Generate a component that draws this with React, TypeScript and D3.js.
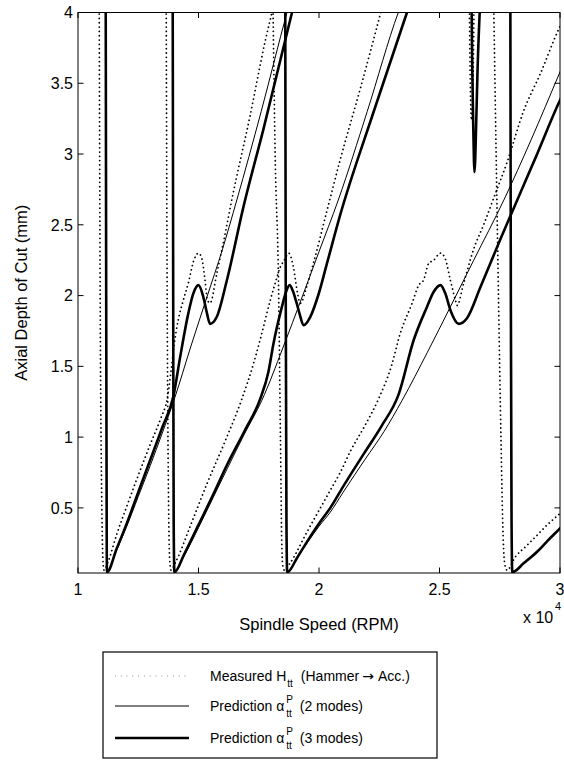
import React from 'react';
import * as d3 from 'd3';

type P = [number, number];

// ---------- axes ----------
const xDomain: [number, number] = [1, 3];
const yDomain: [number, number] = [0.04, 4];
const xTicks = [1, 1.5, 2, 2.5, 3];
const xTickLabels = ['1', '1.5', '2', '2.5', '3'];
const yTicks = [0.5, 1, 1.5, 2, 2.5, 3, 3.5, 4];
const yTickLabels = ['0.5', '1', '1.5', '2', '2.5', '3', '3.5', '4'];

// ---------- Measured H_tt (Hammer -> Acc.) : dotted ----------
const measuredLobe1: P[] = [
  [1.088, 4.05], [1.092, 2.0], [1.099, 0.5], [1.103, 0.15], [1.108, 0.06],
  [1.125, 0.12], [1.16, 0.31], [1.2, 0.5], [1.25, 0.73], [1.3, 0.95], [1.345, 1.14],
  [1.37, 1.27], [1.385, 1.45], [1.398, 1.64], [1.415, 1.82], [1.437, 1.968], [1.458, 2.09],
  [1.479, 2.24], [1.5, 2.3], [1.514, 2.26], [1.527, 2.11], [1.537, 1.968], [1.548, 1.947],
  [1.576, 2.157], [1.611, 2.44], [1.638, 2.675], [1.714, 3.27], [1.777, 3.8], [1.812, 4.05],
];
const measuredLobe2: P[] = [
  [1.366, 4.05], [1.37, 2.0], [1.376, 0.5], [1.38, 0.15], [1.386, 0.06],
  [1.403, 0.11], [1.47, 0.39], [1.535, 0.67], [1.61, 0.97], [1.68, 1.27], [1.73, 1.53],
  [1.756, 1.69], [1.798, 1.968], [1.818, 2.086], [1.839, 2.2], [1.856, 2.25], [1.874, 2.3],
  [1.894, 2.2], [1.911, 2.016], [1.922, 1.945], [1.95, 2.07], [1.977, 2.23], [2.033, 2.6],
  [2.088, 2.96], [2.171, 3.46], [2.264, 4.05],
];
const measuredLobe3: P[] = [
  [1.809, 4.05], [1.818, 3.0], [1.832, 2.086], [1.84, 1.0], [1.845, 0.3], [1.849, 0.1], [1.856, 0.06],
  [1.88, 0.11], [1.95, 0.33], [2.047, 0.625], [2.088, 0.75], [2.13, 0.9], [2.19, 1.08],
  [2.247, 1.27], [2.3, 1.5], [2.337, 1.733], [2.386, 1.945], [2.414, 2.074], [2.434, 2.11],
  [2.455, 2.227], [2.476, 2.25], [2.504, 2.3], [2.524, 2.26], [2.545, 2.11], [2.566, 1.968],
  [2.573, 1.93], [2.6, 2.086], [2.642, 2.33], [2.683, 2.5], [2.725, 2.69], [2.782, 2.95],
  [2.848, 3.3], [2.919, 3.57], [2.994, 3.88], [3.02, 3.97],
];
const measuredDip: P[] = [
  [2.624, 4.05], [2.627, 3.6], [2.63, 3.33], [2.633, 3.24], [2.637, 3.33], [2.64, 3.6], [2.643, 4.05],
];
const measuredLobe4: P[] = [
  [2.725, 4.05], [2.735, 3.0], [2.745, 1.968], [2.755, 1.0], [2.764, 0.3], [2.771, 0.1], [2.78, 0.06],
  [2.815, 0.155], [2.86, 0.23], [2.905, 0.307], [2.95, 0.385], [3.0, 0.46], [3.02, 0.49],
];

// ---------- Prediction alpha_tt^P (2 modes) : thin ----------
const twoModeLobe1: P[] = [
  [1.115, 4.05], [1.117, 2.0], [1.119, 0.4], [1.12, 0.045],
  [1.16, 0.2], [1.2, 0.36], [1.25, 0.58], [1.3, 0.8], [1.35, 1.03], [1.398, 1.26],
  [1.47, 1.65], [1.535, 1.99], [1.6, 2.33], [1.659, 2.675], [1.76, 3.3], [1.867, 4.0], [1.875, 4.05],
];
const twoModeLobe2: P[] = [
  [1.393, 4.05], [1.395, 2.0], [1.397, 0.4], [1.4, 0.045],
  [1.44, 0.16], [1.5, 0.36], [1.56, 0.57], [1.62, 0.78], [1.69, 1.02], [1.763, 1.26],
  [1.85, 1.63], [1.93, 1.99], [2.0, 2.31], [2.08, 2.675], [2.2, 3.3], [2.329, 4.0], [2.34, 4.05],
];
const twoModeLobe3: P[] = [
  [1.86, 4.05], [1.862, 2.0], [1.865, 0.4], [1.868, 0.045],
  [1.91, 0.15], [1.95, 0.25], [2.0, 0.37], [2.047, 0.47], [2.1, 0.61], [2.19, 0.84],
  [2.27, 1.04], [2.345, 1.26], [2.45, 1.6], [2.545, 1.92], [2.642, 2.25], [2.767, 2.675],
  [2.88, 3.1], [3.0, 3.58], [3.02, 3.66],
];
const twoModeLobe4: P[] = [
  [2.794, 4.05], [2.796, 2.0], [2.799, 0.4], [2.802, 0.045],
  [2.85, 0.11], [2.905, 0.19], [2.95, 0.27], [3.0, 0.355], [3.02, 0.39],
];

// ---------- Prediction alpha_tt^P (3 modes) : thick ----------
const threeModeLobe1: P[] = [
  [1.115, 4.05], [1.117, 2.0], [1.119, 0.4], [1.12, 0.045],
  [1.16, 0.21], [1.2, 0.38], [1.25, 0.61], [1.3, 0.84], [1.35, 1.07], [1.396, 1.29],
  [1.424, 1.567], [1.458, 1.876], [1.479, 2.017], [1.5, 2.074], [1.52, 1.99], [1.535, 1.876],
  [1.548, 1.8], [1.576, 1.85], [1.618, 2.11], [1.687, 2.63], [1.77, 3.18], [1.888, 4.0], [1.895, 4.05],
];
const threeModeLobe2: P[] = [
  [1.393, 4.05], [1.395, 2.0], [1.397, 0.4], [1.4, 0.045],
  [1.44, 0.17], [1.5, 0.38], [1.56, 0.59], [1.62, 0.81], [1.69, 1.04], [1.756, 1.27],
  [1.79, 1.46], [1.811, 1.66], [1.846, 1.92], [1.862, 2.02], [1.878, 2.074], [1.892, 2.03],
  [1.905, 1.96], [1.919, 1.874], [1.936, 1.79], [1.964, 1.85], [2.0, 2.02], [2.033, 2.227],
  [2.088, 2.57], [2.225, 3.29], [2.365, 4.0], [2.375, 4.05],
];
const threeModeLobe3: P[] = [
  [1.86, 4.05], [1.862, 2.0], [1.865, 0.4], [1.868, 0.045],
  [1.91, 0.15], [1.95, 0.26], [2.0, 0.39], [2.047, 0.5], [2.1, 0.65], [2.185, 0.88],
  [2.26, 1.08], [2.33, 1.3], [2.393, 1.686], [2.448, 1.92], [2.476, 2.027], [2.504, 2.074],
  [2.524, 2.016], [2.545, 1.898], [2.58, 1.8], [2.614, 1.84], [2.67, 2.06], [2.753, 2.4],
  [2.829, 2.7], [2.9, 2.98], [3.0, 3.38], [3.02, 3.45],
];
const threeModeDip: P[] = [
  [2.633, 4.05], [2.636, 3.6], [2.64, 3.2], [2.643, 2.95], [2.645, 2.873], [2.648, 2.95],
  [2.652, 3.2], [2.658, 3.6], [2.668, 4.05],
];
const threeModeLobe4: P[] = [
  [2.794, 4.05], [2.796, 2.0], [2.799, 0.4], [2.802, 0.045],
  [2.85, 0.11], [2.905, 0.19], [2.95, 0.27], [3.0, 0.355], [3.02, 0.39],
];

const measuredSeries = [measuredLobe1, measuredLobe2, measuredLobe3, measuredDip, measuredLobe4];
const twoModeSeries = [twoModeLobe1, twoModeLobe2, twoModeLobe3, twoModeLobe4];
const threeModeSeries = [threeModeLobe1, threeModeLobe2, threeModeLobe3, threeModeDip, threeModeLobe4];

const FONT = '"Liberation Sans", Arial, Helvetica, sans-serif';

export default function App() {
  const W = 564;
  const H = 765;
  const plot = { left: 78, right: 560, top: 12.5, bottom: 573 };
  const x = d3.scaleLinear().domain(xDomain).range([plot.left, plot.right]);
  const y = d3.scaleLinear().domain(yDomain).range([plot.bottom, plot.top]);
  const line = d3
    .line<P>()
    .x((d) => x(d[0]))
    .y((d) => y(d[1]))
    .curve(d3.curveMonotoneX);
  const tick = 5.5;

  const dotted = { stroke: '#000', strokeWidth: 1.8, strokeDasharray: '0.01 4.3', strokeLinecap: 'round' as const, fill: 'none' };
  const thin = { stroke: '#000', strokeWidth: 1, fill: 'none' };
  const thick = { stroke: '#000', strokeWidth: 2.6, fill: 'none' };

  const legend = { x: 103, y: 652, w: 334, h: 106 };
  const rows = [676, 706, 738];

  return (
    <svg
      width={W}
      height={H}
      style={{ position: 'absolute', left: 0, top: 0, background: '#fff' }}
      fontFamily={FONT}
    >
      <rect x={0} y={0} width={W} height={H} fill="#fff" />
      <defs>
        <clipPath id="plotClip">
          <rect x={plot.left} y={plot.top} width={plot.right - plot.left} height={plot.bottom - plot.top} />
        </clipPath>
      </defs>

      <g clipPath="url(#plotClip)">
        {measuredSeries.map((s, i) => (
          <path key={'m' + i} d={line(s) || ''} {...dotted} />
        ))}
        {twoModeSeries.map((s, i) => (
          <path key={'t' + i} d={line(s) || ''} {...thin} />
        ))}
        {threeModeSeries.map((s, i) => (
          <path key={'k' + i} d={line(s) || ''} {...thick} strokeLinejoin="round" />
        ))}
      </g>

      {/* box */}
      <rect
        x={plot.left}
        y={plot.top}
        width={plot.right - plot.left}
        height={plot.bottom - plot.top}
        fill="none"
        stroke="#000"
        strokeWidth={1}
      />

      {/* x ticks */}
      {xTicks.map((t, i) => (
        <g key={'xt' + i}>
          <line x1={x(t)} x2={x(t)} y1={plot.bottom} y2={plot.bottom - tick} stroke="#000" strokeWidth={1} />
          <line x1={x(t)} x2={x(t)} y1={plot.top} y2={plot.top + tick} stroke="#000" strokeWidth={1} />
          <text x={x(t)} y={plot.bottom + 22} fontSize={16} textAnchor="middle" fill="#000">
            {xTickLabels[i]}
          </text>
        </g>
      ))}
      {/* y ticks */}
      {yTicks.map((t, i) => (
        <g key={'yt' + i}>
          <line x1={plot.left} x2={plot.left + tick} y1={y(t)} y2={y(t)} stroke="#000" strokeWidth={1} />
          <line x1={plot.right} x2={plot.right - tick} y1={y(t)} y2={y(t)} stroke="#000" strokeWidth={1} />
          <text x={plot.left - 5} y={y(t) + 5.8} fontSize={16} textAnchor="end" fill="#000">
            {yTickLabels[i]}
          </text>
        </g>
      ))}

      {/* exponent */}
      <text x={523} y={623} fontSize={16} fill="#000">x 10</text>
      <text x={555} y={610} fontSize={11} fill="#000">4</text>

      {/* axis labels */}
      <text x={(plot.left + plot.right) / 2} y={630} fontSize={16.5} textAnchor="middle" fill="#000">
        Spindle Speed (RPM)
      </text>
      <text
        transform={`translate(27, ${(plot.top + plot.bottom) / 2}) rotate(-90)`}
        fontSize={16.5}
        textAnchor="middle"
        fill="#000"
      >
        Axial Depth of Cut (mm)
      </text>

      {/* legend */}
      <rect x={legend.x} y={legend.y} width={legend.w} height={legend.h} fill="#fff" stroke="#000" strokeWidth={1.2} />
      <line x1={115} x2={189} y1={rows[0]} y2={rows[0]} stroke="#555" strokeWidth={0.8} strokeDasharray="0.8 5" />
      <line x1={115} x2={189} y1={rows[1]} y2={rows[1]} stroke="#000" strokeWidth={1} />
      <line x1={115} x2={189} y1={rows[2]} y2={rows[2]} stroke="#000" strokeWidth={2.6} />

      <g fontSize={14} fill="#000">
        <text x={210} y={rows[0] + 5}>
          Measured H
          <tspan fontSize={10} dx={1} dy={6}>tt</tspan>
          <tspan dx={8} dy={-6}>(Hammer</tspan>
          <tspan fontFamily='"DejaVu Sans", sans-serif' dx={3}>→</tspan>
          <tspan dx={4}>Acc.)</tspan>
        </text>

        {['(2 modes)', '(3 modes)'].map((lab, i) => (
          <text key={lab} x={210} y={rows[i + 1] + 5}>
            Prediction α
            <tspan fontSize={10} dx={2} dy={-8}>P</tspan>
            <tspan fontSize={10} dx={-6.7} dy={14}>tt</tspan>
            <tspan dx={8} dy={-6}>{lab}</tspan>
          </text>
        ))}
      </g>
    </svg>
  );
}
